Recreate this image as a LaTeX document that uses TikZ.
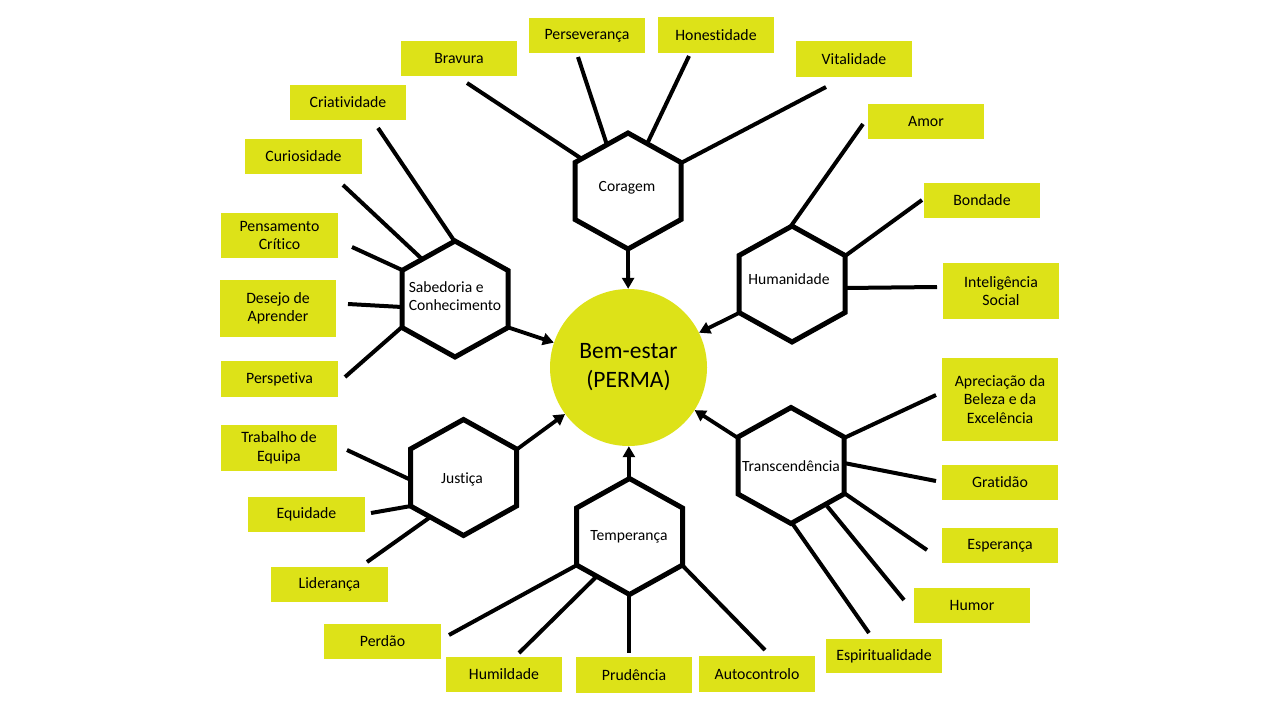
\documentclass[tikz,border=0pt]{standalone}
\usepackage{fontspec}
\setmainfont{Carlito}[Ligatures={NoCommon}]
\usetikzlibrary{arrows.meta}
\definecolor{permayellow}{RGB}{221,226,24}
\tikzset{
  box/.style={fill=permayellow, minimum width=116pt, minimum height=35pt, inner sep=0pt, align=center, font=\fontsize{15.8}{18.5}\selectfont},
  hexline/.style={line width=5pt, draw=black},
  link/.style={line width=4pt},
  toward/.style={line width=3.8pt, -{Triangle[length=11pt,width=12pt]}},
  hexlabel/.style={font=\fontsize{15.6}{18.5}\selectfont, inner sep=0pt, align=center},
}
\newcommand{\hexagonat}[1]{\draw[hexline,shift={#1}] (0,-58) -- (53,-28.5) -- (53,28.5) -- (0,58) -- (-53,28.5) -- (-53,-28.5) -- cycle;}
\begin{document}
\begin{tikzpicture}[x=1pt,y=-1pt]
\useasboundingbox[fill=white] (0,0) rectangle (1280,720);

% central circle
\node[circle, fill=permayellow, minimum size=157pt, inner sep=0pt, align=center,
      font=\fontsize{23.5}{29}\selectfont] (well) at (628.5,367.5) {Bem-estar\\(PERMA)};

% hexagons
\hexagonat{(628,191)}
\hexagonat{(455,299)}
\hexagonat{(792,284)}
\hexagonat{(791,465.5)}
\hexagonat{(463.5,477.5)}
\hexagonat{(629.5,536.5)}

\node[hexlabel] (cor) at (627,188) {Coragem};
\node[hexlabel, align=left] (sab) at (455,296) {Sabedoria e\\Conhecimento};
\node[hexlabel] (hum) at (789,279) {Humanidade};
\node[hexlabel] (tra) at (791,466) {Transcendência};
\node[hexlabel] (jus) at (462,479) {Justiça};
\node[hexlabel] (tem) at (629,537) {Temperança};

% boxes
\node[box] (bra) at (459,58) {Bravura};
\node[box] (per) at (587,35.5) {Perseverança};
\node[box, minimum height=36pt] (hon) at (716,35) {Honestidade};
\node[box, minimum height=36pt] (vit) at (854,59) {Vitalidade};
\node[box] (amo) at (926,121.5) {Amor};
\node[box] (bon) at (982,200.5) {Bondade};
\node[box, minimum height=56pt] (int) at (1001,291) {Inteligência\\Social};
\node[box, minimum height=83pt] (apr) at (1000,399.5) {Apreciação da\\Beleza e da\\Excelência};
\node[box] (gra) at (1000,482.5) {Gratidão};
\node[box] (esp) at (1000,545.5) {Esperança};
\node[box] (hmr) at (972,605.5) {Humor};
\node[box, minimum height=34pt] (spi) at (884,656) {Espiritualidade};
\node[box, minimum height=36pt] (aut) at (757,674) {Autocontrolo};
\node[box, minimum height=36pt] (pru) at (634,675) {Prudência};
\node[box] (hml) at (504,674.5) {Humildade};
\node[box, minimum width=117pt] (prd) at (382.5,641.5) {Perdão};
\node[box, minimum width=117pt] (lid) at (329.5,584.5) {Liderança};
\node[box, minimum width=117pt] (equ) at (306.5,514.5) {Equidade};
\node[box, minimum height=46pt] (tdb) at (279,448) {Trabalho de\\Equipa};
\node[box, minimum width=117pt, minimum height=36pt] (psp) at (279.5,379) {Perspetiva};
\node[box, minimum height=57pt] (des) at (278,308.5) {Desejo de\\Aprender};
\node[box, minimum width=117pt, minimum height=45pt] (pen) at (279.5,235.5) {Pensamento\\Crítico};
\node[box, minimum width=117pt] (cur) at (303.5,156.5) {Curiosidade};
\node[box] (cri) at (348,102.5) {Criatividade};

% connector end points
\coordinate (bra-e) at (467,83);   \coordinate (bra-h) at (582,159);
\coordinate (per-e) at (578,57);   \coordinate (per-h) at (607,145);
\coordinate (hon-e) at (689,56);   \coordinate (hon-h) at (647,144);
\coordinate (vit-e) at (826,87);   \coordinate (vit-h) at (681,163);
\coordinate (cri-e) at (378,128);  \coordinate (cri-h) at (455,242);
\coordinate (cur-e) at (343,185);  \coordinate (cur-h) at (422,259);
\coordinate (pen-e) at (352,247);  \coordinate (pen-h) at (402,270);
\coordinate (des-e) at (348,304);  \coordinate (des-h) at (402,307);
\coordinate (psp-e) at (345,377);  \coordinate (psp-h) at (402,327);
\coordinate (amo-e) at (863,124);  \coordinate (amo-h) at (791,226);
\coordinate (bon-e) at (922,200);  \coordinate (bon-h) at (845,256);
\coordinate (int-e) at (937,287);  \coordinate (int-h) at (845,288);
\coordinate (apr-e) at (936,395);  \coordinate (apr-h) at (844,438);
\coordinate (gra-e) at (936,481);  \coordinate (gra-h) at (844,463);
\coordinate (esp-e) at (927,550);  \coordinate (esp-h) at (844,493);
\coordinate (hmr-e) at (904,600);  \coordinate (hmr-h) at (827,506);
\coordinate (spi-e) at (869,633);  \coordinate (spi-h) at (792,523);
\coordinate (tdb-e) at (347,450);  \coordinate (tdb-h) at (411,480);
\coordinate (equ-e) at (371,513);  \coordinate (equ-h) at (411,506);
\coordinate (lid-e) at (367,562);  \coordinate (lid-h) at (429,518);
\coordinate (prd-e) at (449,635);  \coordinate (prd-h) at (577,565);
\coordinate (hml-e) at (519,653);  \coordinate (hml-h) at (596,577);
\coordinate (pru-e) at (629,653);  \coordinate (pru-h) at (629,593);
\coordinate (aut-e) at (765,650);  \coordinate (aut-h) at (682,565);

\foreach \n in {bra,per,hon,vit,cri,cur,pen,des,psp,amo,bon,int,apr,gra,esp,hmr,spi,tdb,equ,lid,prd,hml,pru,aut}
  \draw[link] (\n-h) -- (\n-e);

% arrows into the centre
\coordinate (cor-b) at (628,249);
\coordinate (sab-lr) at (507,327);
\coordinate (hum-ll) at (739,313);
\coordinate (tra-ul) at (738,438);
\coordinate (jus-ur) at (516,450);
\coordinate (tem-t) at (629,479);
\draw[toward] (cor-b) -- (well);
\draw[toward] (sab-lr) -- (well);
\draw[toward] (hum-ll) -- (well);
\draw[toward] (tra-ul) -- (well);
\draw[toward] (jus-ur) -- (well);
\draw[toward] (tem-t) -- (well);
\end{tikzpicture}
\end{document}
